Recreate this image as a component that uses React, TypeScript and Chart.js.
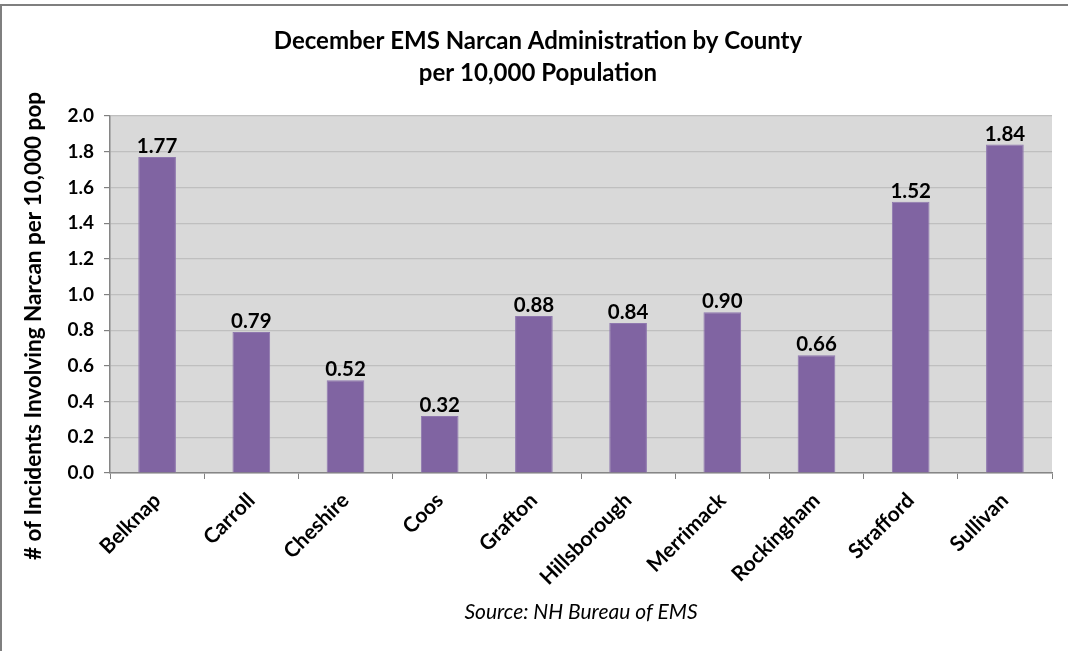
import React, { useEffect, useRef } from "react";
import { Chart, registerables } from "chart.js";

Chart.register(...registerables);

const counties = ["Belknap", "Carroll", "Cheshire", "Coos", "Grafton", "Hillsborough", "Merrimack", "Rockingham", "Strafford", "Sullivan"];
const rates = [1.77, 0.79, 0.52, 0.32, 0.88, 0.84, 0.9, 0.66, 1.52, 1.84];
const titleLines = ["December EMS Narcan Administration by County", "per 10,000 Population"];
const yTitle = "# of Incidents Involving Narcan per 10,000 pop";
const sourceText = "Source: NH Bureau of EMS";

const FONT = "Lato";

const decorPlugin = {
  id: "decor",
  beforeDraw(chart: any) {
    const { ctx, chartArea } = chart;
    ctx.save();
    ctx.fillStyle = "#ffffff";
    ctx.fillRect(0, 0, chart.width, chart.height);
    ctx.fillStyle = "#D9D9D9";
    ctx.fillRect(chartArea.left, chartArea.top, chartArea.right - chartArea.left, chartArea.bottom - chartArea.top);
    ctx.restore();
  },
  afterDraw(chart: any) {
    const { ctx, chartArea } = chart;
    ctx.save();
    // outer frame (top & left)
    ctx.fillStyle = "#7f7f7f";
    ctx.fillRect(0, 4, chart.width, 2);
    ctx.fillRect(0, 4, 2, chart.height - 4);

    // title
    ctx.fillStyle = "#000";
    ctx.textAlign = "center";
    ctx.textBaseline = "alphabetic";
    ctx.font = `bold 24px ${FONT}`;
    ctx.fillText(titleLines[0], 538, 49);
    ctx.fillText(titleLines[1], 538, 81);

    // y title
    ctx.save();
    ctx.translate(41, 326);
    ctx.rotate(-Math.PI / 2);
    ctx.font = `bold 22.5px ${FONT}`;
    ctx.fillText(yTitle, 0, 0);
    ctx.restore();

    // source
    ctx.font = `italic 21px ${FONT}`;
    ctx.fillText(sourceText, (chartArea.left + chartArea.right) / 2, 619);

    // data labels
    const meta = chart.getDatasetMeta(0);
    ctx.font = `bold 20.5px ${FONT}`;
    meta.data.forEach((bar: any, i: number) => {
      ctx.fillText(rates[i].toFixed(2), bar.x, bar.y - 4);
    });
    ctx.restore();
  },
};

export default function App() {
  const ref = useRef<HTMLCanvasElement | null>(null);
  useEffect(() => {
    if (!ref.current) return;
    const chart = new Chart(ref.current, {
      type: "bar",
      data: {
        labels: counties,
        datasets: [
          {
            data: rates,
            backgroundColor: "#8064A2",
            borderColor: "#8F78AF",
            borderWidth: 1,
            barPercentage: 0.4,
            categoryPercentage: 1.0,
          },
        ],
      },
      options: {
        animation: false,
        responsive: false,
        maintainAspectRatio: false,
        layout: { padding: { top: 116, left: 0, right: 16, bottom: 0 } },
        plugins: { legend: { display: false }, tooltip: { enabled: false }, title: { display: false } },
        scales: {
          x: {
            offset: true,
            grid: { offset: true, drawOnChartArea: false, tickLength: 6, color: "#808080", lineWidth: 1 },
            border: { color: "#868686", width: 1.5 },
            ticks: {
              minRotation: 45,
              maxRotation: 45,
              padding: 9,
              color: "#000",
              font: { family: FONT, weight: "bold", size: 21 },
            },
            afterFit(scale: any) {
              scale.height = 651 - 473;
            },
          },
          y: {
            min: 0,
            max: 2,
            grid: { color: "#BFBFBF", tickColor: "#808080", tickLength: 6, lineWidth: 1.2 },
            border: { color: "#868686", width: 1.5 },
            ticks: {
              stepSize: 0.2,
              padding: 10,
              color: "#000",
              font: { family: FONT, weight: "bold", size: 19 },
              callback: (v: any) => Number(v).toFixed(1),
            },
            afterFit(scale: any) {
              scale.width = 110;
            },
          },
        },
      },
      plugins: [decorPlugin],
    });
    return () => chart.destroy();
  }, []);
  return (
    <div style={{ position: "fixed", left: 0, top: 0, width: 1068, height: 651 }}>
      <canvas ref={ref} width={1068} height={651} style={{ width: 1068, height: 651 }} />
    </div>
  );
}
